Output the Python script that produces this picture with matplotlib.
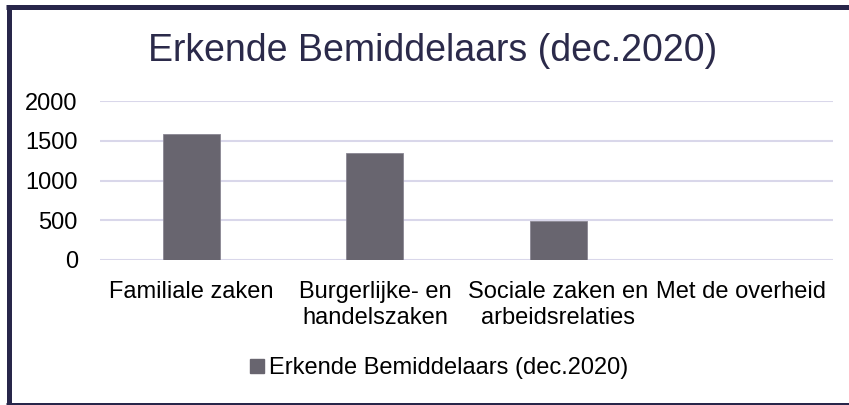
import matplotlib
matplotlib.use("Agg")
import matplotlib.pyplot as plt
from matplotlib.lines import Line2D

categories = ["Familiale zaken", "Burgerlijke- en\nhandelszaken",
              "Sociale zaken en\narbeidsrelaties", "Met de overheid"]
values = [1590, 1340, 495, 0]
series_name = "Erkende Bemiddelaars (dec.2020)"
yticks = [0, 500, 1000, 1500, 2000]

plt.rcParams['font.family'] = ['Liberation Sans', 'DejaVu Sans']

W, H = 849, 405
fig = plt.figure(figsize=(W / 100, H / 100), dpi=100)
fig.patch.set_facecolor("white")

ax = fig.add_axes([100 / W, 1 - 260 / H, (833 - 100) / W, (260 - 101) / H])
x = range(len(categories))
bar_color = "#68656f"
ax.bar(x, values, width=0.31, color=bar_color, edgecolor="#8a8793", linewidth=0.6, zorder=3)
ax.set_xlim(-0.5, len(categories) - 0.5)
ax.set_ylim(0, 2000)
ax.set_yticks(yticks)
ax.set_yticklabels([str(v) for v in yticks], fontsize=17, color="#000000")
ax.set_xticks(list(x))
ax.set_xticklabels(categories, fontsize=17, color="#000000", linespacing=1.25)
ax.tick_params(axis="both", length=0)
ax.tick_params(axis="y", pad=16)
ax.tick_params(axis="x", pad=15)
for s in ax.spines.values():
    s.set_visible(False)
ax.grid(axis="y", color="#d9d7ea", linewidth=1.5, zorder=0)
ax.set_axisbelow(True)

fig.text(433 / W, 1 - 51 / H, series_name, fontsize=27, color="#2b2a4a",
         ha="center", va="center")

handle = Line2D([], [], marker="s", linestyle="none", markersize=10,
                markerfacecolor=bar_color, markeredgecolor=bar_color)
fig.legend([handle], [series_name], loc="center", bbox_to_anchor=(437 / W, 1 - 368 / H),
           frameon=False, fontsize=17, handletextpad=0.0, handlelength=1.0,
           borderpad=0, labelcolor="#000000")

# chart frame: left, top and bottom edges (right edge lies outside the image)
fc = "#28264a"
lw = 5 * 72 / 100
for xs, ys in [((8.5, 8.5), (6.5, 404.5)),
               ((6, W + 5), (6.5, 6.5)),
               ((6, W + 5), (404.5, 404.5))]:
    fig.add_artist(Line2D([v / W for v in xs], [1 - v / H for v in ys],
                          transform=fig.transFigure, color=fc, linewidth=lw,
                          solid_capstyle="butt"))

fig.savefig("out.png", dpi=100)
